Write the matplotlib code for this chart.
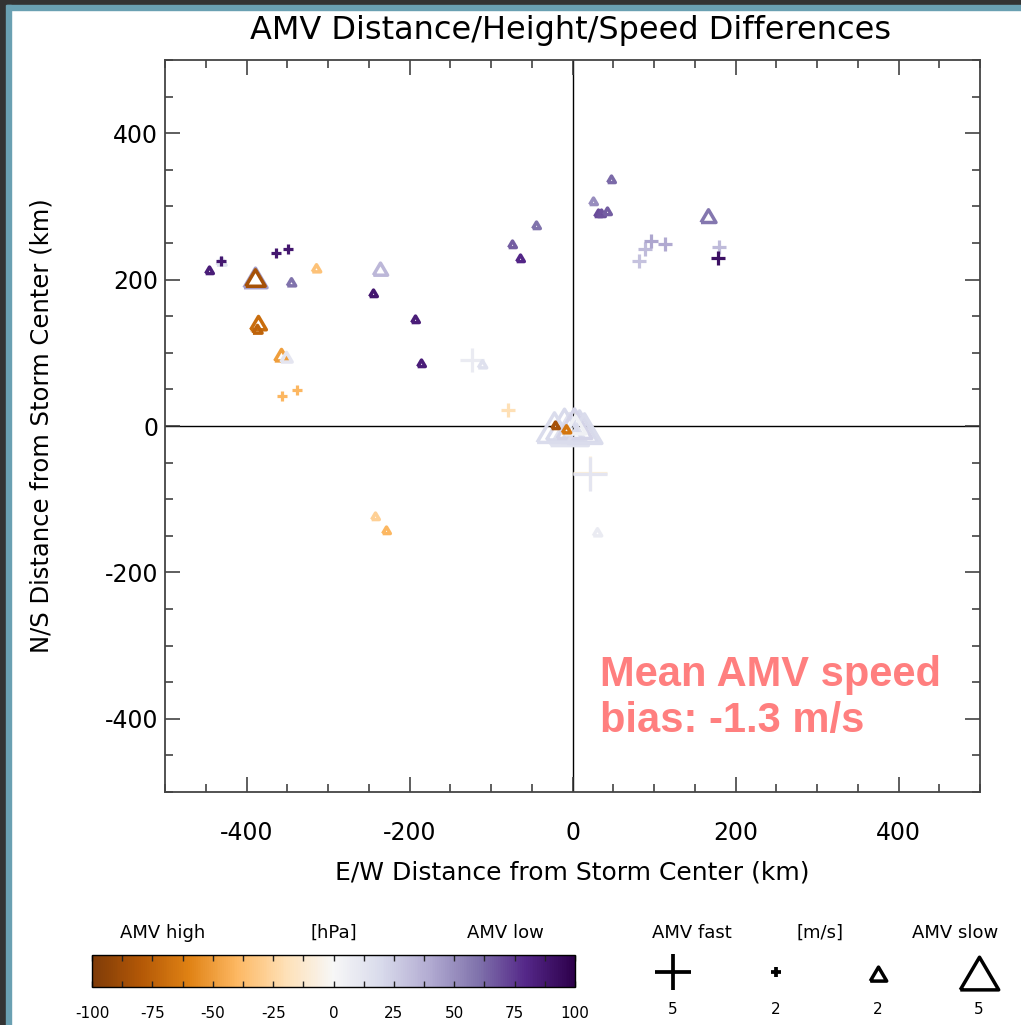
import numpy as np
import matplotlib
matplotlib.use("Agg")
import matplotlib.pyplot as plt
from matplotlib.patches import Rectangle
from matplotlib.colors import Normalize
from matplotlib.ticker import MultipleLocator
import matplotlib.colorbar as mcolorbar

plt.rcParams['font.family'] = ['DejaVu Sans']
plt.rcParams['axes.unicode_minus'] = False

# ---------------- data ----------------
# E/W distance (km), N/S distance (km), height diff (hPa), speed diff (m/s; <0 slow, >0 fast)
ew_km = [-446, -431, -431, -364, -349, -390, -390, -345, -315, -386, -387, -358, -352,
         -356, -338, -236, -245, -193, -186, -242, -229, -74, -64, -45, -123, -111, -79,
         -23, -10, 2, 8, 14, -4, 3, -21, -8, 22, 21, 30,
         47, 25, 31, 35, 42, 166, 82, 89, 96, 114, 180, 178]
ns_km = [213, 225, 225, 236, 242, 202, 202, 197, 216, 141, 132, 97, 94,
         41, 49, 214, 182, 146, 86, -123, -142, 248, 229, 274, 90, 85, 22,
         -3, 2, 3, -2, -4, -6, 2, 1, -4, -66, -64, -145,
         338, 308, 291, 291, 294, 287, 226, 242, 253, 248, 244, 230]
height_diff = [85, 15, 88, 88, 88, 45, -85, 60, -35, -70, -75, -50, 12,
               -40, -40, 35, 88, 85, 85, -28, -40, 65, 80, 60, 8, 15, -20,
               18, 20, 22, 20, 18, 15, 5, -85, -65, 12, -8, 8,
               62, 50, 70, 68, 65, 58, 30, 33, 42, 40, 33, 92]
speed_diff = [-0.8, -1.0, 2.0, 2.0, 2.0, -2.9, -2.4, -0.9, -0.9, -1.9, -1.0, -1.6, -1.3,
              2.0, 2.0, -1.7, -0.8, -0.8, -0.8, -0.8, -0.8, -0.8, -0.8, -0.8, 3.6, -0.9, 2.6,
              -4.5, -4.7, -4.5, -4.8, -4.5, -4.9, -2.6, -0.8, -0.9, 4.6, 4.7, -0.9,
              -0.8, -0.8, -0.8, -0.8, -0.8, -1.8, 2.5, 2.5, 2.5, 2.6, 2.5, 2.5]

cbar_ticks = [-100, -75, -50, -25, 0, 25, 50, 75, 100]
legend_speeds = [5, 2, -2, -5]
legend_labels = ["5", "2", "2", "5"]

title = "AMV Distance/Height/Speed Differences"
xlabel = "E/W Distance from Storm Center (km)"
ylabel = "N/S Distance from Storm Center (km)"
note = "Mean AMV speed\nbias: -1.3 m/s"

# ---------------- style ----------------
W, H = 1021, 1025
DPI = 100
cmap = plt.get_cmap('PuOr')
norm = Normalize(vmin=-100, vmax=100)
TRI = [(-1.0, -0.8), (1.0, -0.8), (0.0, 0.9), (-1.0, -0.8)]

def tri_px(s):
    return 7.33 * abs(s) + 1.8

def plus_px(s):
    return max(9.3 * abs(s) - 9.6, 5.0)

def px2pt(p):
    return p * 72.0 / DPI

fig = plt.figure(figsize=(W / DPI, H / DPI), dpi=DPI)
fig.patch.set_facecolor('white')

def fx(px):
    return px / W

def fy(py):
    return 1 - py / H

ax = fig.add_axes([fx(165), fy(792), fx(980) - fx(165), fy(60) - fy(792)])
ax.set_xlim(-500, 500)
ax.set_ylim(-500, 500)
ax.axhline(0, color='black', lw=1.0, zorder=1)
ax.axvline(0, color='black', lw=1.0, zorder=1)

order = sorted(range(len(ew_km)),
               key=lambda i: -(tri_px(speed_diff[i]) if speed_diff[i] < 0 else plus_px(speed_diff[i])))
for k, i in enumerate(order):
    col = cmap(norm(height_diff[i]))
    s = speed_diff[i]
    if s < 0:
        ax.plot(ew_km[i], ns_km[i], marker=TRI, ms=px2pt(tri_px(s)), mfc='none',
                mec=col, mew=2.5, ls='none', zorder=3 + k * 0.01)
    else:
        ax.plot(ew_km[i], ns_km[i], marker='+', ms=px2pt(plus_px(s)),
                mec=col, mew=2.3, ls='none', zorder=3 + k * 0.01)

ax.xaxis.set_major_locator(MultipleLocator(200))
ax.xaxis.set_minor_locator(MultipleLocator(50))
ax.yaxis.set_major_locator(MultipleLocator(200))
ax.yaxis.set_minor_locator(MultipleLocator(50))
ax.tick_params(which='both', direction='in', top=True, right=True, color='#333333')
ax.tick_params(which='major', length=11, width=1.1)
ax.tick_params(which='minor', length=5.5, width=1.1)
ax.tick_params(axis='x', which='major', pad=21, labelsize=17)
ax.tick_params(axis='y', which='major', pad=5, labelsize=17)
for sp in ax.spines.values():
    sp.set_color('#444444')
    sp.set_linewidth(1.3)
ax.set_xlabel(xlabel, fontsize=18, labelpad=11)
ax.set_ylabel(ylabel, fontsize=17.5, labelpad=37)

fig.text(fx(571), fy(30), title, fontsize=23, ha='center', va='center')

ax.text(fx(600), fy(732), note, transform=fig.transFigure, fontsize=30,
        fontweight='bold', family='Liberation Sans', color='#ff7f7f',
        ha='left', va='baseline', linespacing=1.2)

# ---------------- colorbar ----------------
cax = fig.add_axes([fx(92), fy(987), fx(575) - fx(92), fy(955) - fy(987)])
cb = mcolorbar.ColorbarBase(cax, cmap=cmap, norm=norm, orientation='horizontal')
cb.set_ticks(cbar_ticks)
cb.ax.xaxis.set_minor_locator(MultipleLocator(12.5))
cax.tick_params(which='both', direction='in', top=True, bottom=True, length=4,
                width=1.0, color='#222222', labelsize=11, pad=14)
cb.outline.set_linewidth(1.0)
fig.text(fx(163), fy(933), "AMV high", fontsize=13, ha='center', va='center')
fig.text(fx(334), fy(933), "[hPa]", fontsize=13, ha='center', va='center')
fig.text(fx(505), fy(933), "AMV low", fontsize=13, ha='center', va='center')

# ---------------- size legend ----------------
lax = fig.add_axes([fx(620), fy(1025), fx(1021) - fx(620), fy(915) - fy(1025)])
lax.set_xlim(620, 1021)
lax.set_ylim(1025, 915)
lax.axis('off')
leg_x = [673, 776, 878, 979]
for xx, sv, lab in zip(leg_x, legend_speeds, legend_labels):
    if sv > 0:
        lax.plot(xx, 972, marker='+', ms=px2pt(plus_px(sv)), mec='black', mew=2.7, ls='none')
    else:
        lax.plot(xx, 974, marker=TRI, ms=px2pt(tri_px(sv)), mfc='none', mec='black',
                 mew=2.5, ls='none')
    lax.text(xx, 1010, lab, fontsize=11, ha='center', va='center')
lax.text(692, 933, "AMV fast", fontsize=13, ha='center', va='center')
lax.text(820, 933, "[m/s]", fontsize=13, ha='center', va='center')
lax.text(955, 933, "AMV slow", fontsize=13, ha='center', va='center')

# ---------------- window frame ----------------
fig.patches.append(Rectangle((0, fy(5)), 1, 5 / H, transform=fig.transFigure,
                             color='#333333', zorder=10))
fig.patches.append(Rectangle((0, fy(10)), 1, 5 / H, transform=fig.transFigure,
                             color='#6aa0b2', zorder=10))
fig.patches.append(Rectangle((0, 0), 6 / W, 1, transform=fig.transFigure,
                             color='#333333', zorder=11))
fig.patches.append(Rectangle((6 / W, 0), 5 / W, fy(5), transform=fig.transFigure,
                             color='#6aa0b2', zorder=11))

fig.savefig('out.png', dpi=DPI)
